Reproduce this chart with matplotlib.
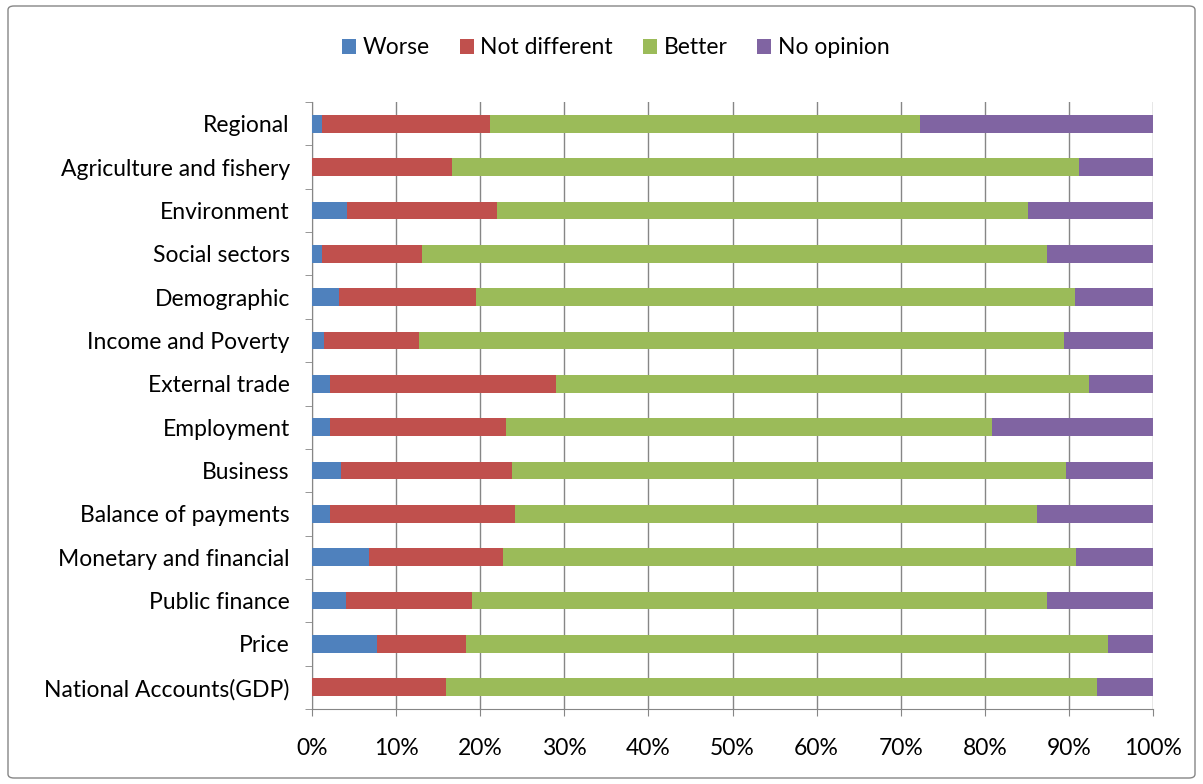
import matplotlib
matplotlib.use('Agg')
import matplotlib.pyplot as plt
import numpy as np
from matplotlib.patches import FancyBboxPatch

plt.rcParams['font.family'] = ['Lato', 'DejaVu Sans']

# 数据 (从下到上)
categories = ['National Accounts(GDP)', 'Price', 'Public finance', 'Monetary and financial',
              'Balance of payments', 'Business', 'Employment', 'External trade',
              'Income and Poverty', 'Demographic', 'Social sectors', 'Environment',
              'Agriculture and fishery', 'Regional']
worse = [0, 7.7, 4.0, 6.8, 2.1, 3.4, 2.1, 2.1, 1.4, 3.2, 1.2, 4.2, 0, 1.2]
not_diff = [15.9, 10.6, 15.0, 15.9, 22.0, 20.4, 21.0, 26.9, 11.3, 16.3, 11.9, 17.8, 16.6, 20.0]
better = [77.4, 76.3, 68.4, 68.2, 62.1, 65.9, 57.8, 63.4, 76.7, 71.2, 74.3, 63.1, 74.6, 51.1]
no_opinion = [6.7, 5.4, 12.6, 9.1, 13.8, 10.3, 19.1, 7.6, 10.6, 9.3, 12.6, 14.9, 8.8, 27.7]

series = [('Worse', worse, '#4f81bd'), ('Not different', not_diff, '#c0504d'),
          ('Better', better, '#9bbb59'), ('No opinion', no_opinion, '#8064a2')]

fig = plt.figure(figsize=(12.03, 7.84), dpi=100)
ax = fig.add_axes([312/1203, 1-709/784, (1153-312)/1203, (709-102)/784])

y = np.arange(len(categories))
left = np.zeros(len(categories))
for name, vals, col in series:
    vals = np.array(vals, dtype=float)
    ax.barh(y, vals, left=left, height=0.41, color=col, label=name, zorder=3)
    left += vals

ax.set_xlim(0, 100)
ax.set_ylim(-0.5, len(categories) - 0.5)
ax.set_xticks(np.arange(0, 101, 10))
ax.set_xticklabels(['%d%%' % v for v in range(0, 101, 10)], fontsize=16.5)
ax.set_yticks(y)
ax.set_yticklabels(categories, fontsize=16.5)
ax.set_yticks(np.arange(-0.5, len(categories), 1), minor=True)
ax.tick_params(axis='y', which='major', length=0, pad=16)
ax.tick_params(axis='y', which='minor', length=5, color='#868686')
ax.tick_params(axis='x', length=5, color='#868686', pad=16)
ax.grid(axis='x', color='#868686', linewidth=1, zorder=0)
for s in ['top', 'right']:
    ax.spines[s].set_visible(False)
for s in ['left', 'bottom']:
    ax.spines[s].set_color('#868686')

ax.legend(loc='center', bbox_to_anchor=(0.512, 1 - 48/784), bbox_transform=fig.transFigure,
          ncol=4, frameon=False, fontsize=16.5, handlelength=0.6, handleheight=0.6,
          handletextpad=0.3, columnspacing=1.3)

border = FancyBboxPatch((8/1203, 6/784), 1187/1203, 772/784, boxstyle='round,pad=0,rounding_size=0.005',
                        transform=fig.transFigure, fill=False, edgecolor='#868686', linewidth=1)
fig.patches.append(border)

fig.savefig('out.png', dpi=100)
